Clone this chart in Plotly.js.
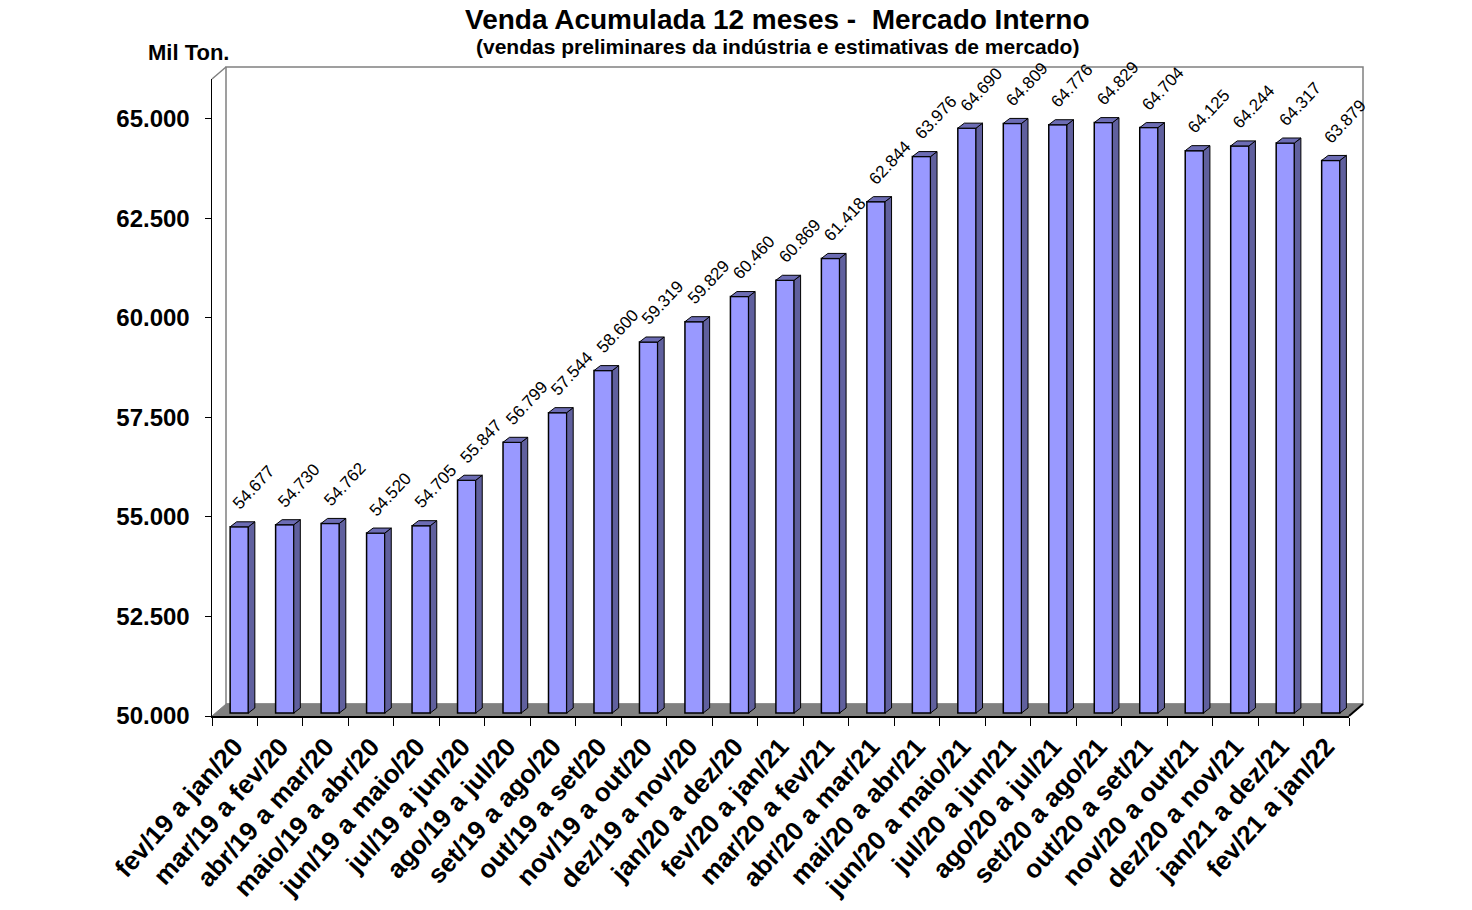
<!DOCTYPE html>
<html>
<head>
<meta charset="utf-8">
<script src="https://cdn.plot.ly/plotly-3.0.1.min.js"></script>
<style>html,body{margin:0;padding:0;background:#fff;}</style>
</head>
<body>
<div id="chart" style="width:1472px;height:910px;"></div>
<script>
const categories = [
  "fev/19 a jan/20", "mar/19 a fev/20", "abr/19 a mar/20", "maio/19 a abr/20",
  "jun/19 a maio/20", "jul/19 a jun/20", "ago/19 a jul/20", "set/19 a ago/20",
  "out/19 a set/20", "nov/19 a out/20", "dez/19 a nov/20", "jan/20 a dez/20",
  "fev/20 a jan/21", "mar/20 a fev/21", "abr/20 a mar/21", "mai/20 a abr/21",
  "jun/20 a maio/21", "jul/20 a jun/21", "ago/20 a jul/21", "set/20 a ago/21",
  "out/20 a set/21", "nov/20 a out/21", "dez/20 a nov/21", "jan/21 a dez/21",
  "fev/21 a jan/22"
];
const values = [
  54677, 54730, 54762, 54520, 54705, 55847, 56799, 57544, 58600, 59319,
  59829, 60460, 60869, 61418, 62844, 63976, 64690, 64809, 64776, 64829,
  64704, 64125, 64244, 64317, 63879
];
const yMin = 50000, yMax = 66000, yStep = 2500;
const titleText = "Venda Acumulada 12 meses -  Mercado Interno";
const subtitleText = "(vendas preliminares da indústria e estimativas de mercado)";
const unitText = "Mil Ton.";

// layout geometry
const W = 1472, H = 910;
const M = {l: 212, r: 123, t: 79, b: 194};
const plotW = W - M.l - M.r, plotH = H - M.t - M.b;
const nCat = categories.length;
const pxPerCat = plotW / nCat;
const pxPerUnit = plotH / (yMax - yMin);
// depth of the 3D box (px)
const depthX = 14, depthY = 12;
// bar plane offset (px) and bar thickness
const barShiftX = 4.5, barShiftY = 3, barDX = 6.5, barDY = 5;
const barW = 0.4;
const shiftX = barShiftX / pxPerCat;
const ddx = barDX / pxPerCat;
const ddy = barDY / pxPerUnit;
const y2Off = barShiftY / pxPerUnit;

const FONT = "'Liberation Sans', Arial, sans-serif";

function fmt(v) {
  return Math.floor(v / 1000) + "." + String(v % 1000).padStart(3, "0");
}

const trace = {
  type: "bar",
  x: categories,
  y: values.map(v => v - yMin),
  base: yMin,
  yaxis: "y2",
  width: barW,
  offset: -barW / 2 + shiftX,
  marker: {color: "#9999FF", line: {color: "#000000", width: 1.5}},
  hoverinfo: "skip",
  showlegend: false
};

const px2paperX = 1 / plotW, px2paperY = 1 / plotH;
const bx = depthX * px2paperX, by = depthY * px2paperY;

const shapes = [
  // back wall
  {type: "rect", xref: "paper", yref: "paper", x0: bx, y0: by, x1: 1 + bx, y1: 1 + by,
   fillcolor: "#ffffff", line: {color: "#808080", width: 1.5}, layer: "below"},
  // floor
  {type: "path", xref: "paper", yref: "paper",
   path: `M 0,0 L 1,0 L ${1 + bx},${by} L ${bx},${by} Z`,
   fillcolor: "#808080", line: {color: "#808080", width: 1}, layer: "below"},
  // left wall top edge
  {type: "line", xref: "paper", yref: "paper", x0: 0, y0: 1, x1: bx, y1: 1 + by,
   line: {color: "#808080", width: 1.5}, layer: "below"},
  // floor right edge
  {type: "line", xref: "paper", yref: "paper", x0: 1, y0: 0, x1: 1 + bx, y1: by,
   line: {color: "#000000", width: 2}, layer: "above"}
];

values.forEach((v, i) => {
  const left = i - barW / 2 + shiftX, right = i + barW / 2 + shiftX;
  shapes.push({
    type: "path", xref: "x", yref: "y2",
    path: `M ${right},${yMin} L ${right},${v} L ${right + ddx},${v + ddy} L ${right + ddx},${yMin + ddy} Z`,
    fillcolor: "#60609E", line: {color: "#000000", width: 1}
  });
  shapes.push({
    type: "path", xref: "x", yref: "y2",
    path: `M ${left},${v} L ${right},${v} L ${right + ddx},${v + ddy} L ${left + ddx},${v + ddy} Z`,
    fillcolor: "#6C6CB4", line: {color: "#000000", width: 1}
  });
});

const annotations = values.map((v, i) => ({
  x: i, y: v, xref: "x", yref: "y",
  text: fmt(v), showarrow: false, textangle: -47,
  xshift: 19, yshift: 42,
  font: {family: FONT, size: 17, color: "#000000"}
}));

annotations.push(
  {xref: "paper", yref: "paper", x: (777.5 - M.l) / plotW, y: (H - M.b - 19) / plotH,
   xanchor: "center", yanchor: "middle", showarrow: false,
   text: "<b>" + titleText + "</b>", font: {family: FONT, size: 28, color: "#000"}},
  {xref: "paper", yref: "paper", x: (777.5 - M.l) / plotW, y: (H - M.b - 47) / plotH,
   xanchor: "center", yanchor: "middle", showarrow: false,
   text: "<b>" + subtitleText + "</b>", font: {family: FONT, size: 21, color: "#000"}},
  {xref: "paper", yref: "paper", x: (188 - M.l) / plotW, y: (H - M.b - 52) / plotH,
   xanchor: "center", yanchor: "middle", showarrow: false,
   text: "<b>" + unitText + "</b>", font: {family: FONT, size: 22, color: "#000"}}
);

const layout = {
  width: W, height: H,
  margin: M,
  paper_bgcolor: "#ffffff",
  plot_bgcolor: "rgba(0,0,0,0)",
  separators: ",.",
  showlegend: false,
  xaxis: {
    type: "category",
    range: [-0.5, nCat - 0.5],
    tickson: "boundaries",
    ticks: "outside", ticklen: 8, tickcolor: "#000", tickwidth: 1,
    tickangle: -48,
    showline: true, linecolor: "#000", linewidth: 2,
    showgrid: false, zeroline: false,
    tickfont: {family: FONT, size: 26, color: "#000", weight: "bold"},
    ticklabelstandoff: 3,
    fixedrange: true
  },
  yaxis: {
    range: [yMin, yMax],
    tickmode: "linear", tick0: yMin, dtick: yStep,
    tickformat: ",d",
    ticks: "outside", ticklen: 6, tickcolor: "#000",
    showline: true, linecolor: "#000", linewidth: 1.5,
    showgrid: false, zeroline: false,
    tickfont: {family: FONT, size: 24, color: "#000", weight: "bold"},
    ticklabelstandoff: 10,
    fixedrange: true
  },
  yaxis2: {
    overlaying: "y", anchor: "x",
    range: [yMin - y2Off, yMax - y2Off],
    visible: false, showgrid: false, zeroline: false, fixedrange: true
  },
  shapes: shapes,
  annotations: annotations
};

Plotly.newPlot("chart", [trace], layout, {displayModeBar: false, staticPlot: true});
</script>
</body>
</html>
